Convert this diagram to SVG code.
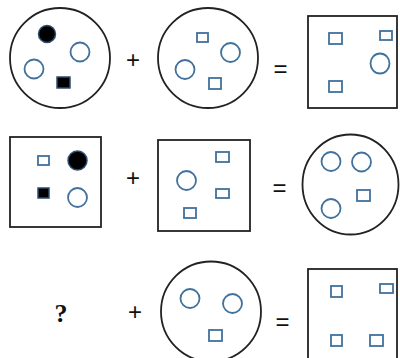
<svg xmlns="http://www.w3.org/2000/svg" width="400" height="358" viewBox="0 0 400 358">
<style>
.outer{fill:#fff;stroke:#222;stroke-width:1.8}
.s{fill:#fff;stroke:#41719c;stroke-width:1.8}
.b{fill:#000;stroke:#2d4f73;stroke-width:1.5}
.op{font-family:"Liberation Sans",Arial,sans-serif;font-size:24px;fill:#111;text-anchor:middle}
.q{font-family:"Liberation Serif","Times New Roman",serif;font-size:26px;font-weight:bold;fill:#111;text-anchor:middle}
</style>
<rect width="400" height="358" fill="#fff"/>
<!-- Row 1 -->
<g id="r1a">
<circle class="outer" cx="60" cy="58" r="50"/>
<circle class="b" cx="47" cy="34" r="8.5"/>
<circle class="s" cx="80" cy="52" r="9.5"/>
<circle class="s" cx="34" cy="69" r="9.5"/>
<rect class="b" x="57" y="77" width="13" height="11"/>
</g>
<text class="op" x="133" y="67.5">+</text>
<g id="r1b">
<circle class="outer" cx="208" cy="58" r="50"/>
<rect class="s" x="197" y="33" width="11" height="9"/>
<circle class="s" cx="230.5" cy="52.5" r="9.5"/>
<circle class="s" cx="185" cy="69.5" r="9.5"/>
<rect class="s" x="209" y="78" width="12" height="11"/>
</g>
<text class="op" x="280.5" y="76.5">=</text>
<g id="r1c">
<rect class="outer" x="308" y="16" width="89" height="92"/>
<rect class="s" x="329" y="33" width="13" height="11"/>
<rect class="s" x="380" y="31" width="12" height="9"/>
<ellipse class="s" cx="380" cy="63.5" rx="9.5" ry="10"/>
<rect class="s" x="329" y="81" width="13" height="11"/>
</g>
<!-- Row 2 -->
<g id="r2a">
<rect class="outer" x="10" y="137" width="91" height="90"/>
<rect class="s" x="38" y="156" width="11" height="9"/>
<circle class="b" cx="77.5" cy="160.5" r="9.5"/>
<rect class="b" x="38" y="188" width="11" height="10"/>
<circle class="s" cx="77.5" cy="197.5" r="9.5"/>
</g>
<text class="op" x="133" y="185.5">+</text>
<g id="r2b">
<rect class="outer" x="158" y="140" width="92" height="91"/>
<rect class="s" x="216" y="152" width="13" height="10"/>
<circle class="s" cx="186.5" cy="180.5" r="9.5"/>
<rect class="s" x="216" y="189" width="13" height="9"/>
<rect class="s" x="184" y="208" width="12" height="10"/>
</g>
<text class="op" x="279.5" y="196">=</text>
<g id="r2c">
<ellipse class="outer" cx="350.5" cy="184.5" rx="48" ry="50"/>
<circle class="s" cx="331" cy="161.5" r="9.5"/>
<circle class="s" cx="361.5" cy="162" r="9.5"/>
<rect class="s" x="357" y="190" width="13" height="11"/>
<circle class="s" cx="331" cy="208.5" r="9.5"/>
</g>
<!-- Row 3 -->
<text class="q" x="61" y="322">?</text>
<text class="op" x="135" y="320">+</text>
<g id="r3b">
<circle class="outer" cx="211" cy="311.5" r="50"/>
<circle class="s" cx="190" cy="298.5" r="9.5"/>
<circle class="s" cx="232.5" cy="303.5" r="9.5"/>
<rect class="s" x="209" y="330" width="13" height="11"/>
</g>
<text class="op" x="282.5" y="329.5">=</text>
<g id="r3c">
<rect class="outer" x="308" y="269" width="89" height="95"/>
<rect class="s" x="331" y="286" width="11" height="11"/>
<rect class="s" x="380" y="284" width="13" height="9"/>
<rect class="s" x="331" y="335" width="11" height="11"/>
<rect class="s" x="370" y="335" width="13" height="11"/>
</g>
</svg>
